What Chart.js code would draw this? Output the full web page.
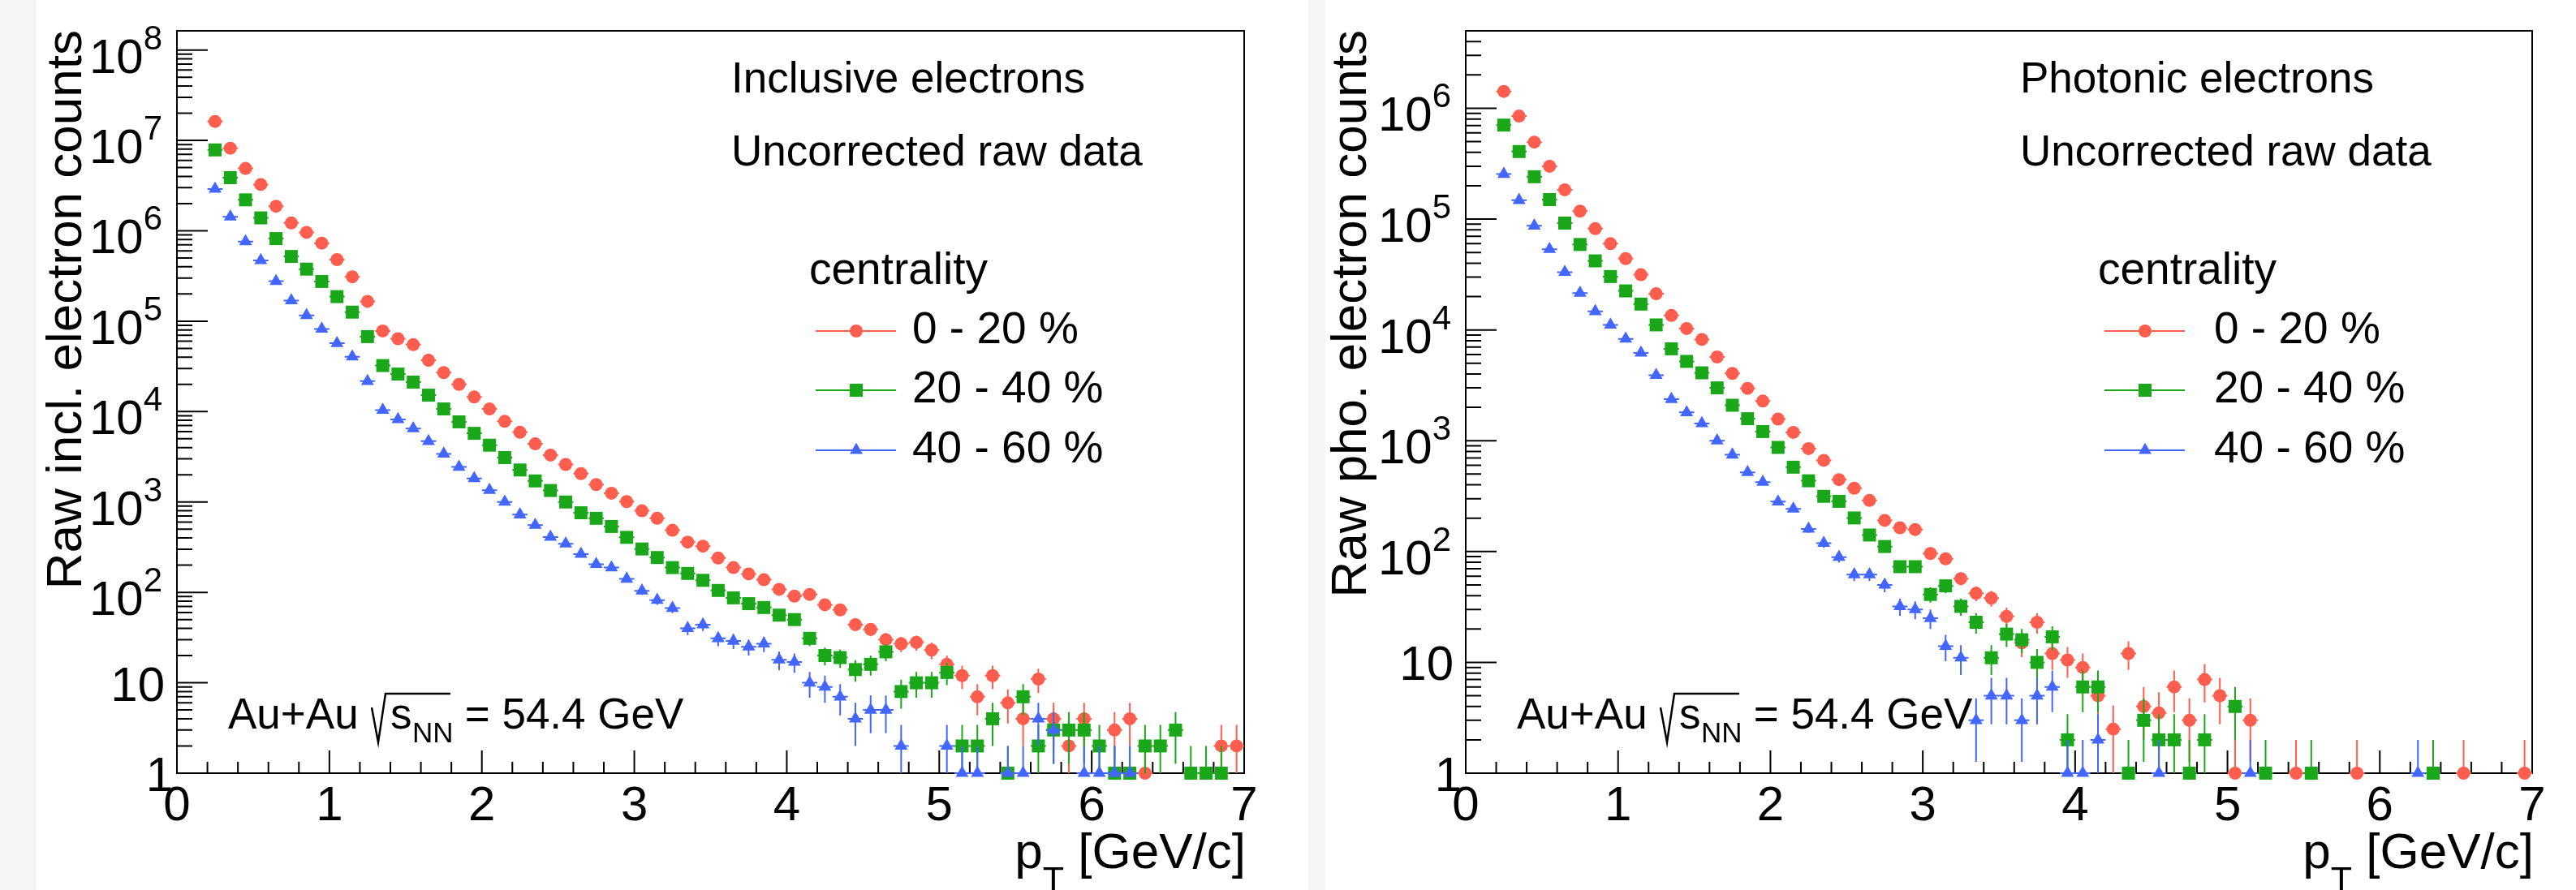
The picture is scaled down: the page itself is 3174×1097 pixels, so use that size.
<!DOCTYPE html>
<html lang="en">
<head>
<meta charset="UTF-8">
<title>Raw electron pT spectra, Au+Au 54.4 GeV</title>
<script src="https://cdn.jsdelivr.net/npm/chart.js"></script>
<style>
  body { margin: 0; background: #fff; width: 3174px; height: 1097px; position: relative; overflow: hidden; }
  .strip { position: absolute; top: 0; height: 1097px; background: #f6f5f3; }
  canvas { position: absolute; top: 0; }
</style>
</head>
<body>
<div class="strip" style="left:0;width:45px"></div>
<div class="strip" style="left:1612px;width:21px"></div>
<canvas id="inclChart" width="1588" height="1097" style="left:0"></canvas>
<canvas id="phoChart" width="1586" height="1097" style="left:1588px"></canvas>

<script>
// pT bin centres [GeV/c], same binning in both panels
const ptBins = [0.25, 0.35, 0.45, 0.55, 0.65, 0.75, 0.85, 0.95,
  1.05, 1.15, 1.25, 1.35, 1.45, 1.55, 1.65, 1.75, 1.85, 1.95,
  2.05, 2.15, 2.25, 2.35, 2.45, 2.55, 2.65, 2.75, 2.85, 2.95,
  3.05, 3.15, 3.25, 3.35, 3.45, 3.55, 3.65, 3.75, 3.85, 3.95,
  4.05, 4.15, 4.25, 4.35, 4.45, 4.55, 4.65, 4.75, 4.85, 4.95,
  5.05, 5.15, 5.25, 5.35, 5.45, 5.55, 5.65, 5.75, 5.85, 5.95,
  6.05, 6.15, 6.25, 6.35, 6.45, 6.55, 6.65, 6.75, 6.85, 6.95];

// raw inclusive electron counts per bin (0 = empty bin, not drawn)
const inclCent0020 = [1.62e7, 8.2e6, 4.9e6, 3.25e6, 1.87e6, 1.22e6, 9.6e5, 7.3e5, 4.8e5, 3.1e5,
  1.66e5, 7.8e4, 6.4e4, 5.5e4, 3.7e4, 2.7e4, 2.0e4, 1.45e4, 1.07e4, 7.8e3,
  5.9e3, 4.4e3, 3.3e3, 2.6e3, 2.06e3, 1.56e3, 1.25e3, 1.01e3, 800, 660,
  487, 360, 325, 240, 188, 160, 138, 108, 91, 95,
  73, 64, 44, 39, 30, 27, 28, 23, 16, 12,
  7, 12, 6, 4, 11, 4, 2, 4, 0, 3,
  4, 1, 0, 0, 0, 0, 2, 2];
const inclCent2040 = [7.85e6, 3.87e6, 2.2e6, 1.39e6, 8.2e5, 5.2e5, 3.77e5, 2.75e5, 1.87e5, 1.26e5,
  6.75e4, 3.23e4, 2.6e4, 2.12e4, 1.52e4, 1.07e4, 7.7e3, 5.75e3, 4.25e3, 3.1e3,
  2.26e3, 1.71e3, 1.34e3, 1.0e3, 760, 660, 536, 406, 302, 243,
  188, 162, 136, 105, 87, 75, 68, 56, 50, 31,
  20, 19, 14, 16, 22, 8, 10, 10, 13, 2,
  2, 4, 1, 7, 2, 3, 3, 3, 2, 1,
  1, 2, 2, 3, 1, 1, 1, 0];
const inclCent4060 = [2.9e6, 1.43e6, 7.6e5, 4.7e5, 2.77e5, 1.69e5, 1.16e5, 8.2e4, 5.7e4, 4.05e4,
  2.17e4, 1.04e4, 8.2e3, 6.5e3, 4.7e3, 3.4e3, 2.44e3, 1.82e3, 1.35e3, 1.0e3,
  725, 555, 410, 345, 265, 205, 188, 141, 104, 82,
  67, 40, 44, 31, 29, 25, 27, 18, 17, 10,
  9, 7, 4, 5, 5, 2, 0, 0, 2, 1,
  1, 0, 1, 1, 4, 3, 0, 1, 1, 1,
  1, 0, 0, 0, 0, 0, 0, 0];

// raw photonic electron counts per bin
const phoCent0020 = [1.42e6, 8.5e5, 4.95e5, 3.0e5, 1.84e5, 1.18e5, 8.2e4, 6.0e4, 4.4e4, 3.15e4,
  2.12e4, 1.35e4, 1.03e4, 8.2e3, 5.7e3, 4.05e3, 2.97e3, 2.28e3, 1.57e3, 1.19e3,
  850, 665, 446, 373, 289, 191, 164, 158, 96, 86,
  57, 42, 38, 26, 15, 23, 12, 10.5, 9, 5,
  2.5, 12, 4, 3.5, 6, 3, 7, 5, 1, 3,
  0, 0, 1, 0, 0, 0, 1, 0, 0, 0,
  0, 0, 0, 1, 0, 0, 0, 1];
const phoCent2040 = [7.05e5, 4.07e5, 2.41e5, 1.5e5, 9.2e4, 5.9e4, 4.2e4, 3.03e4, 2.25e4, 1.71e4,
  1.11e4, 6.75e3, 5.2e3, 4.1e3, 3.0e3, 2.09e3, 1.58e3, 1.21e3, 870, 577,
  435, 315, 284, 201, 141, 111, 73, 73, 41, 49,
  32, 23, 11, 18, 16, 10, 17, 2, 6, 6,
  0, 1, 3, 2, 2, 1, 2, 0, 4, 0,
  1, 0, 0, 1, 0, 0, 0, 0, 0, 0,
  0, 1, 0, 0, 0, 0, 0, 0];
const phoCent4060 = [2.55e5, 1.48e5, 8.7e4, 5.35e4, 3.32e4, 2.15e4, 1.47e4, 1.11e4, 8.3e3, 6.2e3,
  3.9e3, 2.37e3, 1.8e3, 1.43e3, 1.0e3, 747, 518, 424, 282, 243,
  160, 119, 89, 62, 62, 50, 32, 30, 25, 14,
  11, 3, 5, 5, 3, 5, 6, 1, 1, 2,
  0, 0, 0, 1, 0, 0, 0, 0, 0, 1,
  0, 0, 0, 0, 0, 0, 0, 0, 0, 0,
  1, 0, 0, 0, 0, 0, 0, 0];

const centLabels = ['0 - 20 %', '20 - 40 %', '40 - 60 %'];
const xTickValues = [0, 1, 2, 3, 4, 5, 6, 7];
const xTickLabels = ['0', '1', '2', '3', '4', '5', '6', '7'];
const inclYExponents = [0, 1, 2, 3, 4, 5, 6, 7, 8];
const phoYExponents = [0, 1, 2, 3, 4, 5, 6];

const FONT = "'Liberation Sans', Arial, Helvetica, sans-serif";
const colors = ['#ff5d4d', '#1aa81a', '#4266ff'];
const markers = [
  { pointStyle: 'circle', pointRadius: 8 },
  { pointStyle: 'rect', pointRadius: 11.3 },
  { pointStyle: 'triangle', pointRadius: 9.2 }
];

function toPoints(counts) {
  const pts = [];
  counts.forEach((n, i) => { if (n > 0) pts.push({ x: ptBins[i], y: n }); });
  return pts;
}

function drawMarker(ctx, style, x, y) {
  ctx.beginPath();
  if (style === 'circle') ctx.arc(x, y, 8, 0, Math.PI * 2);
  else if (style === 'rect') ctx.rect(x - 8, y - 8, 16, 16);
  else { ctx.moveTo(x, y - 9.2); ctx.lineTo(x + 8, y + 4.6); ctx.lineTo(x - 8, y + 4.6); ctx.closePath(); }
  ctx.fill();
}

function drawYLabel(ctx, exp, y) {
  ctx.textAlign = 'right';
  ctx.textBaseline = 'alphabetic';
  if (exp === 0) {
    ctx.font = '60px ' + FONT;
    ctx.fillText('1', 213, y + 22);
  } else if (exp === 1) {
    ctx.font = '60px ' + FONT;
    ctx.fillText('10', 203, y + 22);
  } else {
    ctx.font = '42px ' + FONT;
    const sup = String(exp);
    const w = ctx.measureText(sup).width;
    ctx.fillText(sup, 200, y - 1);
    ctx.font = '60px ' + FONT;
    ctx.fillText('10', 200 - w, y + 28);
  }
}

// ROOT-like frame, inward ticks, labels, texts and legend
const rootPad = {
  id: 'rootPad',
  beforeDatasetsDraw(chart, args, o) {
    const { ctx, chartArea: a, scales: { x, y } } = chart;
    ctx.save();
    ctx.strokeStyle = '#000';
    ctx.lineWidth = 2;
    ctx.strokeRect(a.left, a.top, a.right - a.left, a.bottom - a.top);
    ctx.beginPath();
    for (let k = 0; k <= 35; k++) {
      const px = x.getPixelForValue(k * 0.2);
      const len = k % 5 === 0 ? 28 : 14;
      ctx.moveTo(px, a.bottom);
      ctx.lineTo(px, a.bottom - len);
    }
    for (let e = 0; e <= 8; e++) {
      for (let m = 1; m <= 9; m++) {
        const v = m * Math.pow(10, e);
        if (v > y.max) break;
        const py = y.getPixelForValue(v);
        ctx.moveTo(a.left, py);
        ctx.lineTo(a.left + (m === 1 ? 38 : 19), py);
      }
    }
    ctx.stroke();
    ctx.restore();
  },
  beforeDatasetDraw(chart, args) {
    const ds = chart.data.datasets[args.index];
    const { ctx, scales: { x, y } } = chart;
    const yBottom = y.getPixelForValue(y.min);
    ctx.save();
    ctx.strokeStyle = ds.borderColor;
    ctx.lineWidth = 2;
    ctx.beginPath();
    ds.data.forEach(p => {
      const px = x.getPixelForValue(p.x);
      const py = y.getPixelForValue(p.y);
      const err = Math.sqrt(p.y);
      const yHi = y.getPixelForValue(p.y + err);
      const yLo = p.y - err > y.min ? y.getPixelForValue(p.y - err) : yBottom;
      ctx.moveTo(px, yLo);
      ctx.lineTo(px, yHi);
      ctx.moveTo(x.getPixelForValue(p.x - 0.05), py);
      ctx.lineTo(x.getPixelForValue(p.x + 0.05), py);
    });
    ctx.stroke();
    ctx.restore();
  },
  afterDraw(chart, args, o) {
    const { ctx, chartArea: a, scales: { x, y } } = chart;
    ctx.save();
    ctx.fillStyle = '#000';

    o.yExponents.forEach(e => drawYLabel(ctx, e, y.getPixelForValue(Math.pow(10, e))));

    ctx.font = '60px ' + FONT;
    ctx.textAlign = 'center';
    xTickLabels.forEach((t, i) => ctx.fillText(t, x.getPixelForValue(xTickValues[i]), 1011));

    // axis titles
    ctx.save();
    ctx.translate(o.yTitleX, a.top - 1);
    ctx.rotate(-Math.PI / 2);
    ctx.textAlign = 'right';
    ctx.font = '62px ' + FONT;
    ctx.fillText(o.yTitle, 0, 0);
    ctx.restore();

    ctx.textAlign = 'left';
    ctx.font = '62px ' + FONT;
    const rest = ' [GeV/c]';
    const wRest = ctx.measureText(rest).width;
    const xRest = a.right + 2 - wRest;
    ctx.fillText(rest, xRest, 1070);
    ctx.font = '43px ' + FONT;
    const wT = ctx.measureText('T').width;
    ctx.fillText('T', xRest - wT, 1098);
    ctx.font = '62px ' + FONT;
    ctx.fillText('p', xRest - wT - ctx.measureText('p').width, 1070);

    // header texts
    ctx.font = '53px ' + FONT;
    ctx.fillText(o.lines[0], 901, 114);
    ctx.fillText(o.lines[1], 901, 204);

    // collision system
    ctx.fillText('Au+Au', 281, 898);
    ctx.strokeStyle = '#000';
    ctx.lineWidth = 2.5;
    ctx.beginPath();
    ctx.moveTo(458, 872);
    ctx.lineTo(466, 915);
    ctx.lineTo(475, 855);
    ctx.lineTo(555, 855);
    ctx.stroke();
    ctx.fillText('s', 481, 898);
    ctx.font = '35px ' + FONT;
    ctx.fillText('NN', 508, 915);
    ctx.font = '53px ' + FONT;
    ctx.fillText(' = 54.4 GeV', 558, 898);

    // legend
    ctx.font = '55px ' + FONT;
    ctx.fillText('centrality', 997, 350);
    const rowY = [408, 481, 555];
    chart.data.datasets.forEach((ds, i) => {
      ctx.strokeStyle = ds.borderColor;
      ctx.lineWidth = 2;
      ctx.beginPath();
      ctx.moveTo(1005, rowY[i]);
      ctx.lineTo(1104, rowY[i]);
      ctx.stroke();
      ctx.fillStyle = ds.backgroundColor;
      drawMarker(ctx, ds.pointStyle, 1055, rowY[i]);
      ctx.fillStyle = '#000';
      ctx.fillText(ds.label, o.legendTextX, rowY[i] + 15);
    });
    ctx.restore();
  }
};

function makePanel(id, series, yMax, padRight, o) {
  const datasets = series.map((counts, i) => ({
    label: centLabels[i],
    data: toPoints(counts),
    backgroundColor: colors[i],
    borderColor: colors[i],
    pointStyle: markers[i].pointStyle,
    pointRadius: markers[i].pointRadius,
    pointBorderWidth: 0,
    clip: false,
    order: 3 - i
  }));
  return new Chart(document.getElementById(id), {
    type: 'scatter',
    data: { datasets: datasets },
    options: {
      responsive: false,
      animation: false,
      devicePixelRatio: 1,
      layout: { padding: { left: 218, top: 38, right: padRight, bottom: 144 } },
      scales: {
        x: { type: 'linear', min: 0, max: 7, display: false },
        y: { type: 'logarithmic', min: 1, max: yMax, display: false }
      },
      plugins: {
        legend: { display: false },
        tooltip: { enabled: false },
        rootPad: o
      }
    },
    plugins: [rootPad]
  });
}

makePanel('inclChart', [inclCent0020, inclCent2040, inclCent4060], 1.63e8, 55, {
  yExponents: inclYExponents,
  yTitle: 'Raw incl. electron counts',
  yTitleX: 100,
  lines: ['Inclusive electrons', 'Uncorrected raw data'],
  legendTextX: 1124
});

makePanel('phoChart', [phoCent0020, phoCent2040, phoCent4060], 5.0e6, 54, {
  yExponents: phoYExponents,
  yTitle: 'Raw pho. electron counts',
  yTitleX: 95,
  lines: ['Photonic electrons', 'Uncorrected raw data'],
  legendTextX: 1140
});
</script>
</body>
</html>
